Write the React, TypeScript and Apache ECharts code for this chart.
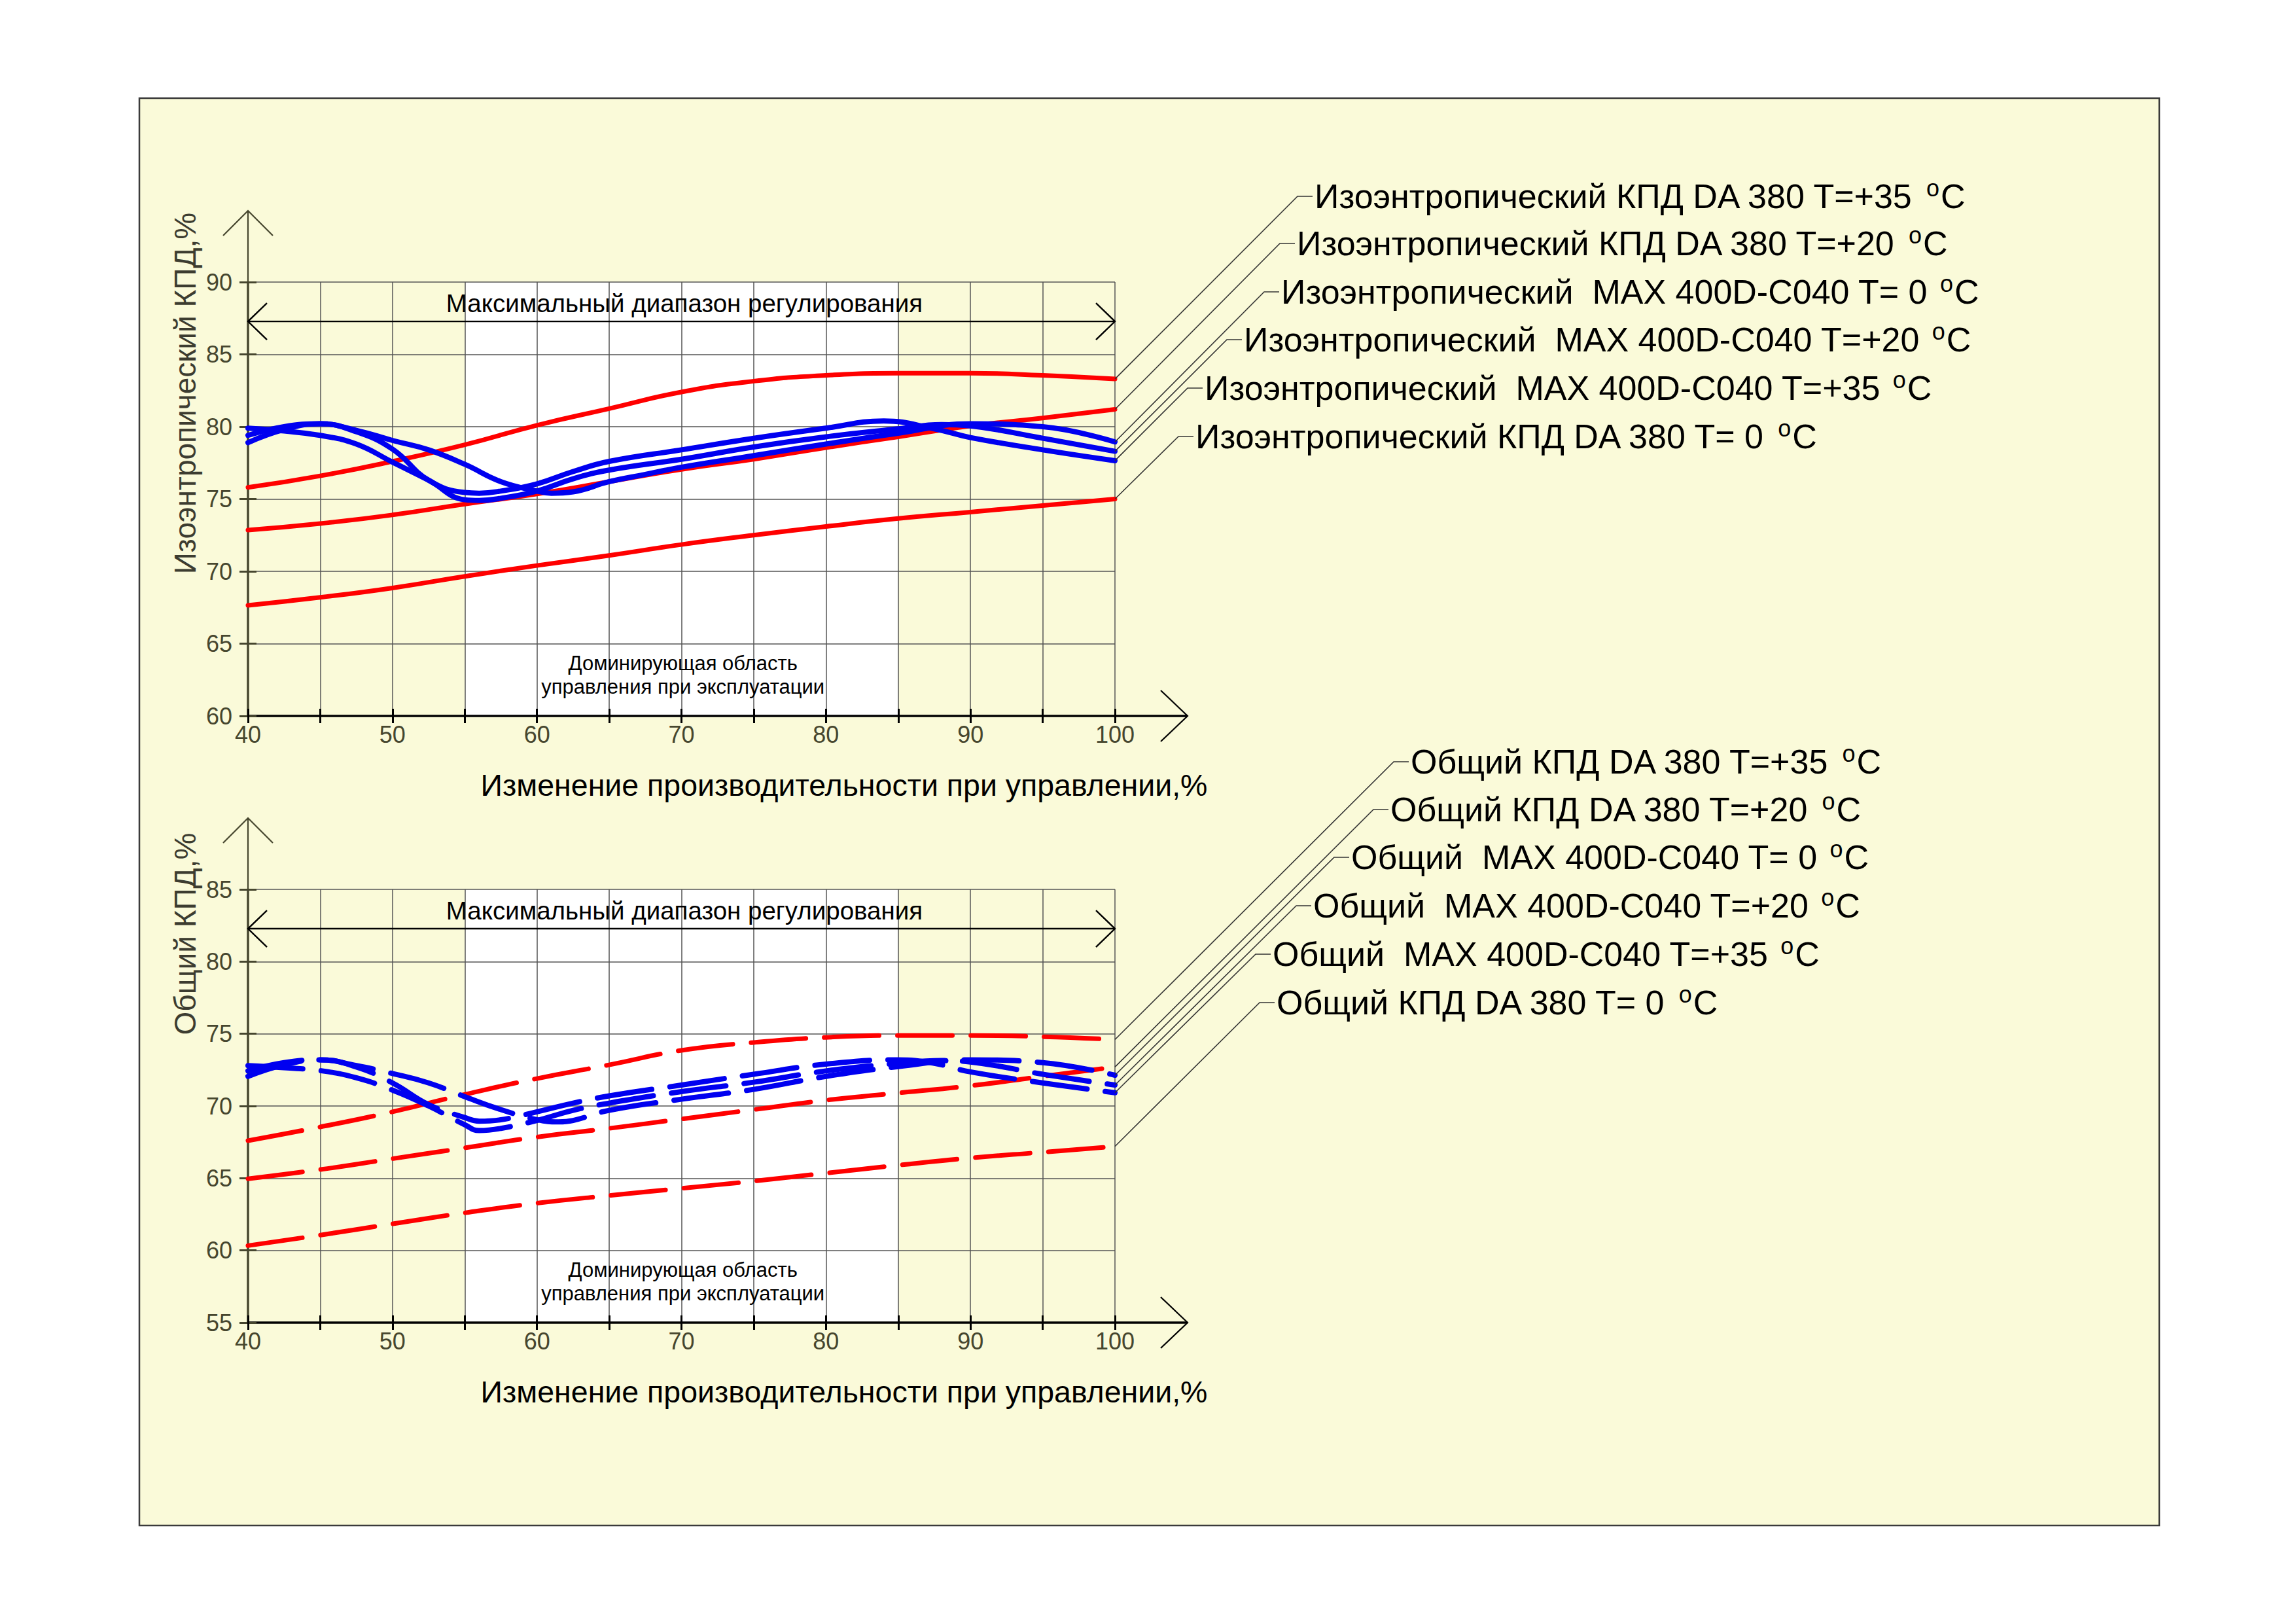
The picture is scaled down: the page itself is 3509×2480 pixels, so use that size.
import React, { useEffect, useRef } from 'react';
import * as echarts from 'echarts';

// ---------------- data ----------------
const X_RED = [40, 45, 50, 55, 60, 65, 70, 75, 80, 85, 90, 95, 100];

// Isentropic efficiency (top panel)
const ISO_DA380_T35 = [75.8, 76.6, 77.6, 78.75, 80.1, 81.25, 82.4, 83.15, 83.55, 83.7, 83.7, 83.55, 83.3];
const ISO_DA380_T20 = [72.85, 73.3, 73.9, 74.65, 75.35, 76.2, 77.05, 77.75, 78.55, 79.3, 80.05, 80.6, 81.2];
const ISO_DA380_T0 = [67.65, 68.2, 68.85, 69.65, 70.4, 71.1, 71.85, 72.5, 73.1, 73.65, 74.1, 74.55, 75.0];

const ISO_MAX_T0_X = [40, 42.5, 45, 47.5, 50, 52.5, 55, 57.5, 60, 61, 62.5, 65, 67.5, 70, 75, 80, 85, 90, 95, 100];
const ISO_MAX_T0 = [78.9, 79.8, 80.2, 79.75, 79.05, 78.4, 77.4, 76.2, 75.55, 75.4, 75.5, 76.2, 76.7, 77.2, 78.0, 78.8, 79.55, 80.2, 80.0, 78.95];
const ISO_MAX_T20_X = [40, 42.5, 45, 47.5, 50, 52.5, 55, 56, 57.5, 60, 62.5, 65, 70, 75, 80, 85, 88, 90, 95, 100];
const ISO_MAX_T20 = [79.9, 79.7, 79.4, 78.8, 77.55, 76.3, 74.95, 74.9, 75.05, 75.55, 76.4, 77.0, 77.75, 78.6, 79.3, 79.85, 80.15, 80.05, 79.2, 78.3];
const ISO_MAX_T35_X = [40, 42.5, 45, 47.5, 50, 52.5, 55, 56, 57.5, 60, 62.5, 65, 70, 75, 80, 84, 87.5, 90, 95, 100];
const ISO_MAX_T35 = [79.4, 80.0, 80.2, 79.65, 78.45, 76.3, 75.45, 75.4, 75.55, 76.05, 76.9, 77.6, 78.4, 79.2, 79.9, 80.4, 79.85, 79.25, 78.4, 77.65];

// Total efficiency (bottom panel)
const TOT_DA380_T35 = [67.6, 68.55, 69.6, 70.8, 71.9, 72.85, 73.85, 74.4, 74.75, 74.88, 74.88, 74.8, 74.6];
const TOT_DA380_T20 = [64.96, 65.6, 66.35, 67.1, 67.85, 68.45, 69.1, 69.75, 70.4, 70.9, 71.4, 72.05, 72.7];
const TOT_DA380_T0 = [60.33, 61.06, 61.84, 62.6, 63.27, 63.8, 64.3, 64.8, 65.35, 65.9, 66.4, 66.8, 67.2];

const TOT_MAX_T0_X = [40, 42.5, 45, 47.5, 50, 52.5, 55, 57.5, 60, 61.5, 62.5, 65, 70, 75, 80, 85, 90, 95, 100];
const TOT_MAX_T0 = [72.05, 72.85, 73.2, 72.8, 72.25, 71.6, 70.65, 69.75, 69.05, 68.9, 69.0, 69.7, 70.47, 71.15, 72.05, 72.73, 73.2, 73.0, 72.13];
const TOT_MAX_T20_X = [40, 42.5, 45, 47.5, 50, 52.5, 55, 56, 57.5, 60, 62.5, 65, 70, 75, 80, 85, 88, 90, 95, 100];
const TOT_MAX_T20 = [72.8, 72.65, 72.45, 71.95, 71.1, 70.0, 68.7, 68.3, 68.45, 69.0, 69.7, 70.2, 71.0, 71.65, 72.43, 72.96, 73.15, 73.05, 72.2, 71.45];
const TOT_MAX_T35_X = [40, 42.5, 45, 47.5, 50, 52.5, 55, 56, 57.5, 60, 62.5, 65, 70, 75, 80, 85, 87.5, 90, 95, 100];
const TOT_MAX_T35 = [72.43, 73.0, 73.2, 72.7, 71.6, 70.1, 69.2, 68.95, 69.05, 69.6, 70.2, 70.7, 71.45, 72.2, 72.9, 73.2, 72.95, 72.36, 71.6, 70.92];

// annotation ranges (x values)
const REG_RANGE = [40, 100];
const DOM_RANGE = [55, 85];

// texts
const TOP_LABELS = [
  'Изоэнтропический КПД DA 380 T=+35 ',
  'Изоэнтропический КПД DA 380 T=+20 ',
  'Изоэнтропический  MAX 400D-C040 T= 0 ',
  'Изоэнтропический  MAX 400D-C040 T=+20 ',
  'Изоэнтропический  MAX 400D-C040 T=+35 ',
  'Изоэнтропический КПД DA 380 T= 0 ',
];
const BOTTOM_LABELS = [
  'Общий КПД DA 380 T=+35 ',
  'Общий КПД DA 380 T=+20 ',
  'Общий  MAX 400D-C040 T= 0 ',
  'Общий  MAX 400D-C040 T=+20 ',
  'Общий  MAX 400D-C040 T=+35 ',
  'Общий КПД DA 380 T= 0 ',
];
const TITLE_REG = 'Максимальный диапазон регулирования';
const DOM_LINES = ['Доминирующая область', 'управления при эксплуатации'];
const Y_NAMES = ['Изоэнтропический КПД,%', 'Общий КПД,%'];
const X_NAME = 'Изменение производительности при управлении,%';

// ---------------- layout / style ----------------
const FONT = "'Liberation Sans', Arial, Helvetica, sans-serif";
const RED = '#ff0000';
const BLUE = '#0000f0';
const OLIVE = '#46462e';
const GRID_LEFT = 379;
const GRID_W = 1325;

const TOP_LABEL_POS = [
  [2009, 300], [1982, 372], [1958, 446], [1901, 519], [1841, 593], [1827, 667],
];
const BOTTOM_LABEL_POS = [
  [2156, 1164], [2125, 1237], [2065, 1310], [2007, 1384], [1945, 1458], [1951, 1532],
];

const zip = (xs: number[], ys: number[]) => xs.map((x, i) => [x, ys[i]]);
const last = (a: number[]) => a[a.length - 1];

const PANELS = [
  {
    top: 431, height: 663, yMin: 60, yMax: 90, yNameY: 601, xNameY: 1200, dashed: false,
    red: [ISO_DA380_T35, ISO_DA380_T20, ISO_DA380_T0],
    blue: [[ISO_MAX_T0_X, ISO_MAX_T0], [ISO_MAX_T20_X, ISO_MAX_T20], [ISO_MAX_T35_X, ISO_MAX_T35]],
    leaderEnds: [
      [last(X_RED), last(ISO_DA380_T35)], [last(X_RED), last(ISO_DA380_T20)],
      [last(ISO_MAX_T0_X), last(ISO_MAX_T0)], [last(ISO_MAX_T20_X), last(ISO_MAX_T20)],
      [last(ISO_MAX_T35_X), last(ISO_MAX_T35)], [last(X_RED), last(ISO_DA380_T0)],
    ],
    labels: TOP_LABELS, labelPos: TOP_LABEL_POS, yName: Y_NAMES[0],
  },
  {
    top: 1359, height: 662, yMin: 55, yMax: 85, yNameY: 1427, xNameY: 2127, dashed: true,
    red: [TOT_DA380_T35, TOT_DA380_T20, TOT_DA380_T0],
    blue: [[TOT_MAX_T0_X, TOT_MAX_T0], [TOT_MAX_T20_X, TOT_MAX_T20], [TOT_MAX_T35_X, TOT_MAX_T35]],
    leaderEnds: [
      [last(X_RED), last(TOT_DA380_T35)], [last(X_RED), last(TOT_DA380_T20)],
      [last(TOT_MAX_T0_X), last(TOT_MAX_T0)], [last(TOT_MAX_T20_X), last(TOT_MAX_T20)],
      [last(TOT_MAX_T35_X), last(TOT_MAX_T35)], [last(X_RED), last(TOT_DA380_T0)],
    ],
    labels: BOTTOM_LABELS, labelPos: BOTTOM_LABEL_POS, yName: Y_NAMES[1],
  },
];

function buildOption() {
  const grid: any[] = [];
  const xAxis: any[] = [];
  const yAxis: any[] = [];
  const series: any[] = [];
  const graphic: any[] = [];

  graphic.push({
    type: 'rect', z: -10, silent: true,
    shape: { x: 213, y: 150, width: 3087, height: 2181 },
    style: { fill: '#fafad9', stroke: '#3a3a3a', lineWidth: 2.5 },
  });

  PANELS.forEach((p, k) => {
    grid.push({ left: GRID_LEFT, top: p.top, width: GRID_W, height: p.height, containLabel: false });
    const xi = 2 * k;
    const xBase = { type: 'value', gridIndex: k, position: 'bottom', min: 40, max: 100, interval: 5, z: 2 };
    xAxis.push({
      ...xBase,
      axisLine: { show: true, onZero: false, lineStyle: { color: '#000', width: 3.5 } },
      axisTick: { show: true, inside: false, length: 11, lineStyle: { color: '#000', width: 3 } },
      axisLabel: {
        show: true, margin: 10, fontSize: 36, fontFamily: FONT, color: OLIVE,
        formatter: (v: number) => (v % 10 === 0 ? String(v) : ''),
      },
      splitLine: { show: true, lineStyle: { color: '#555', width: 1.5 } },
    });
    xAxis.push({
      ...xBase,
      axisLine: { show: false, onZero: false },
      axisTick: { show: true, inside: true, length: 11, lineStyle: { color: '#000', width: 3 } },
      axisLabel: { show: false },
      splitLine: { show: false },
    });
    const yBase = { type: 'value', gridIndex: k, position: 'left', min: p.yMin, max: p.yMax, interval: 5, z: 2 };
    yAxis.push({
      ...yBase,
      axisLine: { show: true, onZero: false, lineStyle: { color: OLIVE, width: 3.5 } },
      axisTick: { show: true, inside: false, length: 13, lineStyle: { color: OLIVE, width: 3 } },
      axisLabel: { show: true, margin: 24, fontSize: 36, fontFamily: FONT, color: OLIVE },
      splitLine: { show: true, lineStyle: { color: '#555', width: 1.5 } },
    });
    yAxis.push({
      ...yBase,
      axisLine: { show: false, onZero: false },
      axisTick: { show: true, inside: true, length: 13, lineStyle: { color: OLIVE, width: 3 } },
      axisLabel: { show: false },
      splitLine: { show: false },
    });

    // white band (dominant region)
    series.push({
      type: 'custom', xAxisIndex: xi, yAxisIndex: xi, z: 1, silent: true,
      data: [[DOM_RANGE[0], DOM_RANGE[1]]],
      renderItem: (params: any, api: any) => {
        const cs = params.coordSys;
        const x1 = api.coord([api.value(0), p.yMin])[0];
        const x2 = api.coord([api.value(1), p.yMin])[0];
        return { type: 'rect', shape: { x: x1, y: cs.y, width: x2 - x1, height: cs.height }, style: { fill: '#ffffff' } };
      },
    });

    // curves
    const lineType = p.dashed ? [84, 28] : 'solid';
    p.red.forEach((ys) => {
      series.push({
        type: 'line', xAxisIndex: xi, yAxisIndex: xi, z: 3, silent: true,
        data: zip(X_RED, ys), smooth: 0.5, showSymbol: false, symbol: 'none',
        lineStyle: { color: RED, width: 7, type: lineType, cap: 'round', join: 'round' },
      });
    });
    p.blue.forEach(([xs, ys]) => {
      series.push({
        type: 'line', xAxisIndex: xi, yAxisIndex: xi, z: 3, silent: true,
        data: zip(xs, ys), smooth: 0.45, showSymbol: false, symbol: 'none',
        lineStyle: { color: BLUE, width: 8, type: lineType, cap: 'round', join: 'round' },
      });
    });

    // annotations: regulation range arrow + texts
    series.push({
      type: 'custom', xAxisIndex: xi, yAxisIndex: xi, z: 4, silent: true,
      data: [[REG_RANGE[0], REG_RANGE[1]]],
      renderItem: (params: any, api: any) => {
        const yA = p.yMax - 2.72;
        const pL = api.coord([api.value(0), yA]);
        const pR = api.coord([api.value(1), yA]);
        const pT = api.coord([70.2, p.yMax - 1.48]);
        const pD1 = api.coord([70.1, p.yMin + 3.65]);
        const pD2 = api.coord([70.1, p.yMin + 2.0]);
        const ls = { stroke: '#000', lineWidth: 2.4, fill: 'none' };
        return {
          type: 'group',
          children: [
            { type: 'line', shape: { x1: pL[0], y1: pL[1], x2: pR[0], y2: pR[1] }, style: ls },
            { type: 'polyline', shape: { points: [[pL[0] + 29, pL[1] - 28], pL, [pL[0] + 29, pL[1] + 28]] }, style: ls },
            { type: 'polyline', shape: { points: [[pR[0] - 29, pR[1] - 28], pR, [pR[0] - 29, pR[1] + 28]] }, style: ls },
            { type: 'text', x: pT[0], y: pT[1], style: { text: TITLE_REG, fill: '#000', font: `38.5px ${FONT}`, align: 'center', verticalAlign: 'middle' } },
            { type: 'text', x: pD1[0], y: pD1[1], style: { text: DOM_LINES[0], fill: '#000', font: `31px ${FONT}`, align: 'center', verticalAlign: 'middle' } },
            { type: 'text', x: pD2[0], y: pD2[1], style: { text: DOM_LINES[1], fill: '#000', font: `31px ${FONT}`, align: 'center', verticalAlign: 'middle' } },
          ],
        };
      },
    });

    // leader lines + labels
    series.push({
      type: 'custom', xAxisIndex: xi, yAxisIndex: xi, z: 4, silent: true, clip: false,
      data: p.leaderEnds,
      renderItem: (params: any, api: any) => {
        const i = params.dataIndex;
        const end = api.coord([api.value(0), api.value(1)]);
        const [tx, ty] = p.labelPos[i];
        return {
          type: 'group',
          children: [
            { type: 'polyline', shape: { points: [end, [tx - 26, ty], [tx - 3, ty]] }, style: { stroke: '#333', lineWidth: 1.6, fill: 'none' } },
            {
              type: 'text', x: tx, y: ty,
              style: {
                text: `{a|${p.labels[i]}}{s|o}{a|C}`,
                fill: '#000', align: 'left', verticalAlign: 'middle',
                rich: {
                  a: { fontSize: 52, fontFamily: FONT, lineHeight: 62, fill: '#000' },
                  s: { fontSize: 36, fontFamily: FONT, lineHeight: 62, verticalAlign: 'top', padding: [0, 2, 0, 4], fill: '#000' },
                },
              },
            },
          ],
        };
      },
    });

    // axis extensions with open arrowheads
    const axY = p.top + p.height;
    const rightX = GRID_LEFT + GRID_W;
    graphic.push(
      { type: 'polyline', z: 5, silent: true, shape: { points: [[rightX, axY], [rightX + 111, axY]] }, style: { stroke: '#000', lineWidth: 3.5, fill: 'none' } },
      { type: 'polyline', z: 5, silent: true, shape: { points: [[rightX + 70, axY - 39], [rightX + 111, axY], [rightX + 70, axY + 39]] }, style: { stroke: '#000', lineWidth: 2.2, fill: 'none' } },
      { type: 'polyline', z: 5, silent: true, shape: { points: [[GRID_LEFT, p.top], [GRID_LEFT, p.top - 109]] }, style: { stroke: OLIVE, lineWidth: 2.2, fill: 'none' } },
      { type: 'polyline', z: 5, silent: true, shape: { points: [[GRID_LEFT - 38, p.top - 71], [GRID_LEFT, p.top - 109], [GRID_LEFT + 38, p.top - 71]] }, style: { stroke: OLIVE, lineWidth: 2.2, fill: 'none' } },
      {
        type: 'text', z: 5, silent: true, x: 283, y: p.yNameY, rotation: Math.PI / 2,
        style: { text: p.yName, fill: '#3c3c30', font: `46px ${FONT}`, align: 'center', verticalAlign: 'middle' },
      },
      {
        type: 'text', z: 5, silent: true, x: 1290, y: p.xNameY,
        style: { text: X_NAME, fill: '#000', font: `46.5px ${FONT}`, align: 'center', verticalAlign: 'middle' },
      },
    );
  });

  return {
    animation: false,
    backgroundColor: '#ffffff',
    textStyle: { fontFamily: FONT },
    grid, xAxis, yAxis, series, graphic,
  };
}

export default function App() {
  const ref = useRef<HTMLDivElement>(null);
  useEffect(() => {
    document.body.style.margin = '0';
    if (!ref.current) return;
    const chart = echarts.init(ref.current, null, { renderer: 'svg' });
    chart.setOption(buildOption() as any);
    return () => chart.dispose();
  }, []);
  return <div ref={ref} style={{ width: 3509, height: 2480 }} />;
}
